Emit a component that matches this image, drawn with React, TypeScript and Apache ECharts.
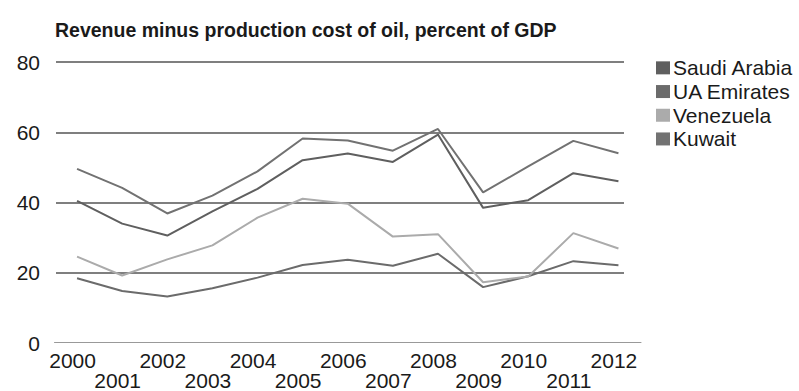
import React, { useEffect, useRef } from "react";
import * as echarts from "echarts";

const years = ["2000", "2001", "2002", "2003", "2004", "2005", "2006", "2007", "2008", "2009", "2010", "2011", "2012"];
const saudiArabia = [40.4, 33.9, 30.5, 37.4, 43.8, 52.0, 53.9, 51.5, 59.3, 38.4, 40.6, 48.3, 46.0];
const uaEmirates = [18.3, 14.7, 13.1, 15.5, 18.5, 22.1, 23.6, 21.9, 25.3, 15.8, 18.9, 23.2, 22.0];
const venezuela = [24.5, 19.1, 23.7, 27.7, 35.6, 41.0, 39.6, 30.2, 30.9, 17.2, 18.8, 31.2, 26.8];
const kuwait = [49.5, 44.1, 36.8, 41.9, 48.8, 58.2, 57.6, 54.7, 60.9, 42.8, 50.2, 57.5, 54.0];
const yTicks = [0, 20, 40, 60, 80];

const FONT = "'Liberation Sans', Arial, sans-serif";

export default function App() {
  const ref = useRef<HTMLDivElement>(null);

  useEffect(() => {
    if (!ref.current) return;
    const chart = echarts.init(ref.current, undefined, { renderer: "svg" });
    const mk = (name: string, data: number[], color: string) => ({
      name,
      type: "line",
      data,
      xAxisIndex: 0,
      yAxisIndex: 0,
      symbol: "none",
      lineStyle: { color, width: 2 },
      itemStyle: { color },
    });
    chart.setOption({
      animation: false,
      backgroundColor: "#ffffff",
      textStyle: { fontFamily: FONT },
      title: {
        text: "Revenue minus production cost of oil, percent of GDP",
        left: 50,
        top: 15,
        textStyle: { fontFamily: FONT, fontSize: 19.5, fontWeight: "bold", color: "#1a1a1a" },
      },
      legend: {
        orient: "vertical",
        left: 656,
        top: 56,
        padding: 0,
        itemGap: 0,
        itemWidth: 14,
        itemHeight: 13,
        icon: "rect",
        textStyle: { fontFamily: FONT, fontSize: 21, lineHeight: 23.7, color: "#1a1a1a", padding: [0, 0, 0, -2] },
        data: ["Saudi Arabia", "UA Emirates", "Venezuela", "Kuwait"],
      },
      grid: [
        { left: 54.5, right: 158, top: 62, bottom: 47.7 },
        { left: 56, right: 175, top: 62, bottom: 47.7 },
      ],
      xAxis: [
        {
          type: "category",
          gridIndex: 0,
          data: years,
          boundaryGap: true,
          axisLine: { lineStyle: { color: "#999999", width: 1 } },
          axisTick: { show: false },
          axisLabel: {
            interval: 0,
            margin: 8,
            fontFamily: FONT,
            fontSize: 21,
            lineHeight: 20,
            color: "#1a1a1a",
            padding: [0, 9, 0, 0],
            formatter: (v: string, i: number) => (i % 2 === 1 ? "\n" + v : v),
          },
        },
        {
          type: "category",
          gridIndex: 1,
          data: years,
          show: false,
        },
      ],
      yAxis: [
        {
          type: "value",
          gridIndex: 0,
          min: 0,
          max: 80,
          interval: 20,
          show: false,
          splitLine: { show: false },
        },
        {
          type: "value",
          gridIndex: 1,
          min: yTicks[0],
          max: yTicks[yTicks.length - 1],
          interval: 20,
          axisLine: { show: false },
          axisTick: { show: false },
          axisLabel: { margin: 16, fontFamily: FONT, fontSize: 21, color: "#1a1a1a" },
          splitLine: {
            lineStyle: { color: ["transparent", "#555555", "#555555", "#555555", "#555555"], width: 1.5 },
          },
        },
      ],
      series: [
        mk("Saudi Arabia", saudiArabia, "#5f5f5f"),
        mk("UA Emirates", uaEmirates, "#6b6b6b"),
        mk("Venezuela", venezuela, "#ababab"),
        mk("Kuwait", kuwait, "#727272"),
      ],
    });
    return () => chart.dispose();
  }, []);

  return (
    <div
      ref={ref}
      style={{ position: "fixed", left: 0, top: 0, width: 799, height: 391, background: "#fff" }}
    />
  );
}
